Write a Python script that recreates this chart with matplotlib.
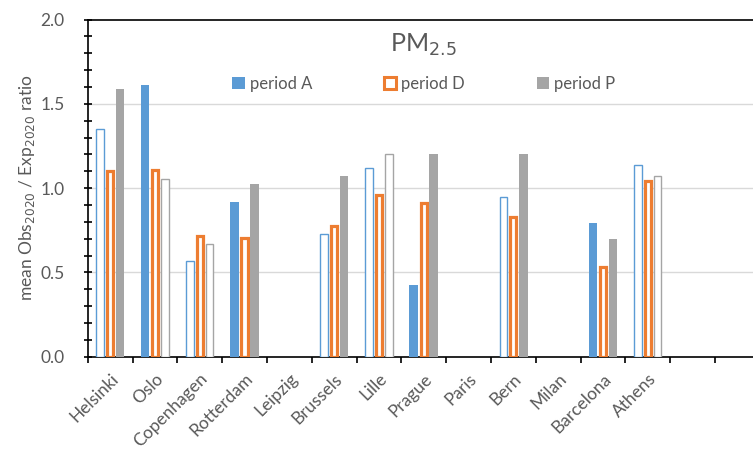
import numpy as np
import matplotlib as mpl
import matplotlib.pyplot as plt
from matplotlib.patches import Patch
from matplotlib.ticker import MultipleLocator, FixedLocator

# ── Data ─────────────────────────────────────────────────────────────────────
CITIES = ["Helsinki", "Oslo", "Copenhagen", "Rotterdam", "Leipzig", "Brussels",
          "Lille", "Prague", "Paris", "Bern", "Milan", "Barcelona", "Athens"]
N_SLOTS = 15  # two empty slots after Athens

PERIOD_A = [1.35, 1.61, 0.565, 0.92, np.nan, 0.725, 1.12, 0.425, np.nan,
            0.95, np.nan, 0.795, 1.135]
PERIOD_D = [1.10, 1.105, 0.715, 0.705, np.nan, 0.775, 0.96, 0.91, np.nan,
            0.83, np.nan, 0.53, 1.045]
PERIOD_P = [1.59, 1.055, 0.67, 1.025, np.nan, 1.07, 1.205, 1.20, np.nan,
            1.20, np.nan, 0.70, 1.07]
# filled (True) or outline-only (False) bars
A_FILLED = [False, True, False, True, False, False, False, True, False,
            False, False, True, False]
P_FILLED = [True, False, False, True, False, True, False, True, False,
            True, False, True, False]

C_A = "#5B9BD5"
C_D = "#ED7D31"
C_P = "#A5A5A5"
C_TXT = "#595959"

mpl.rcParams.update({
    "font.family": ["Lato", "DejaVu Sans"],
    "font.size": 12,
})

fig = plt.figure(figsize=(7.53, 4.50), dpi=100)
ax = fig.add_axes([87.7 / 753, 93.3 / 450, 672 / 753, 337.2 / 450])

x = np.arange(len(CITIES))
step, bw = 0.222, 0.19

for xi, v, filled in zip(x, PERIOD_A, A_FILLED):
    if np.isnan(v):
        continue
    if filled:
        ax.bar(xi - step, v, bw, color=C_A, lw=0, zorder=3)
    else:
        ax.bar(xi - step, v, bw - 0.02, facecolor="white", edgecolor=C_A,
               lw=1.0, zorder=3)

for xi, v in zip(x, PERIOD_D):
    if np.isnan(v):
        continue
    ax.bar(xi, v, 0.135, facecolor="white", edgecolor=C_D, lw=2.3, zorder=3)

for xi, v, filled in zip(x, PERIOD_P, P_FILLED):
    if np.isnan(v):
        continue
    if filled:
        ax.bar(xi + step, v, bw, color=C_P, lw=0, zorder=3)
    else:
        ax.bar(xi + step, v, bw - 0.02, facecolor="white", edgecolor=C_P,
               lw=1.0, zorder=3)

# ── Axes styling ─────────────────────────────────────────────────────────────
ax.set_xlim(-0.5, N_SLOTS - 0.5)
ax.set_ylim(0, 2.0)

for y in (0.5, 1.0, 1.5):
    ax.axhline(y, color="#D9D9D9", lw=1.0, zorder=1)

ax.spines["right"].set_visible(False)
for s in ("left", "bottom", "top"):
    ax.spines[s].set_color("black")
    ax.spines[s].set_linewidth(1.2)
ax.spines["top"].set_zorder(4)

ax.xaxis.set_major_locator(FixedLocator(x))
ax.set_xticklabels(CITIES, rotation=45, ha="right", rotation_mode="anchor",
                   color=C_TXT, fontsize=12.5)
ax.xaxis.set_minor_locator(FixedLocator(np.arange(N_SLOTS + 1) - 0.5))
ax.tick_params(axis="x", which="major", length=0, pad=10)
ax.tick_params(axis="x", which="minor", length=4, width=1.2, direction="out")

ax.yaxis.set_major_locator(MultipleLocator(0.5))
ax.yaxis.set_minor_locator(MultipleLocator(0.1))
ax.set_yticks([0, 0.5, 1.0, 1.5, 2.0])
ax.set_yticklabels(["0.0", "0.5", "1.0", "1.5", "2.0"], color=C_TXT,
                   fontsize=12.5)
ax.tick_params(axis="y", which="both", length=5.5, width=1.2,
               direction="inout", pad=14)

ax.set_ylabel("mean Obs$_{2020}$ / Exp$_{2020}$ ratio", color=C_TXT,
              fontsize=12.5, labelpad=2)

ax.text(0.5, 0.925, "PM$_{2.5}$", transform=ax.transAxes, ha="center",
        va="center", fontsize=18, color=C_TXT)

handles = [
    Patch(facecolor=C_A, edgecolor=C_A, lw=0, label="period A"),
    Patch(facecolor="white", edgecolor=C_D, lw=2.2, label="period D"),
    Patch(facecolor=C_P, edgecolor=C_P, lw=0, label="period P"),
]
ax.legend(handles=handles, loc="center", bbox_to_anchor=(0.5, 0.81),
          ncol=3, frameon=False, fontsize=12, handlelength=0.75,
          handleheight=0.75, handletextpad=0.3, columnspacing=4.3,
          labelcolor=C_TXT)

fig.savefig("out.png", dpi=100)
